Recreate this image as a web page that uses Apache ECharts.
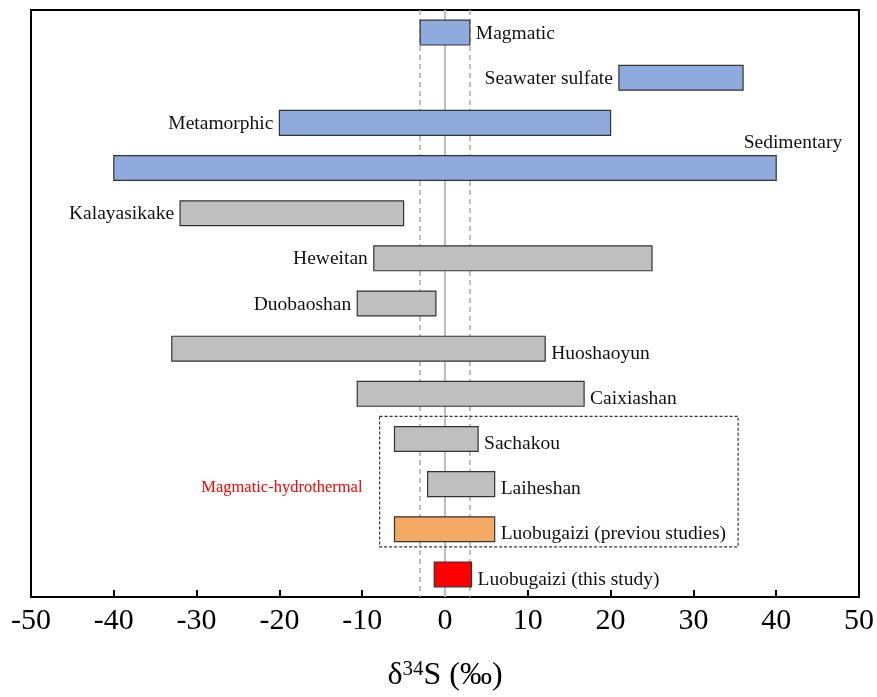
<!DOCTYPE html>
<html>
<head>
<meta charset="utf-8">
<script src="https://cdn.jsdelivr.net/npm/echarts@6/dist/echarts.min.js"></script>
<style>html,body{margin:0;padding:0;background:#fff;}#c{width:877px;height:697px;}</style>
</head>
<body>
<div id="c"></div>
<script>
const categories = ["Magmatic","Seawater sulfate","Metamorphic","Sedimentary","Kalayasikake","Heweitan","Duobaoshan","Huoshaoyun","Caixiashan","Sachakou","Laiheshan","Luobugaizi (previou studies)","Luobugaizi (this study)"];
const lows  = [-3, 21, -20, -40, -32, -8.6, -10.6, -33, -10.6, -6.1, -2.1, -6.1, -1.3];
const highs = [ 3, 36,  20,  40,  -5,  25,  -1.1, 12.1, 16.8,  4.0,  6.0,  6.0,  3.2];
const groups = ["source","source","source","source","deposit","deposit","deposit","deposit","deposit","deposit","deposit","previous","this"];
const labelSide = ["right","left","left","topright","left","left","left","right","right","right","right","right","right"];
const refLines = [-3, 0, 3];
const boxRange = [-7.9, 35.4];
const boxRows = ["Sachakou","Luobugaizi (previou studies)"];
const boxLabel = "Magmatic-hydrothermal";
const boxLabelX = -19.7;
const boxLabelRow = "Laiheshan";

const groupColor = {source:'#8FAADC', deposit:'#BFBFBF', previous:'#F4A965', this:'#FF0000'};
const FONT = '"Liberation Serif","Times New Roman",serif';

const barData = categories.map((c, i) => [i, lows[i], highs[i]]);

const chart = echarts.init(document.getElementById('c'));
chart.setOption({
  animation: false,
  grid: {left: 31, right: 18, top: 10, bottom: 97, show: true, borderColor: '#000', borderWidth: 2, backgroundColor: 'transparent'},
  xAxis: {
    type: 'value', min: -50, max: 50, interval: 10,
    axisLine: {show: true, lineStyle: {color: '#000', width: 2}},
    axisTick: {show: true, inside: true, length: 7, lineStyle: {color: '#000', width: 2}},
    axisLabel: {fontFamily: FONT, fontSize: 30, color: '#000', margin: 9},
    splitLine: {show: false},
    name: '{d|δ}{s|34}{d|S (‰)}',
    nameLocation: 'middle', nameGap: 62,
    nameTextStyle: {
      rich: {
        d: {fontFamily: FONT, fontSize: 32, color: '#000'},
        s: {fontFamily: FONT, fontSize: 21, color: '#000', padding: [0, 0, 13, 0]}
      }
    }
  },
  yAxis: {
    type: 'category', data: categories, inverse: true,
    axisLine: {show: false}, axisTick: {show: false}, axisLabel: {show: false}, splitLine: {show: false}
  },
  series: [
    {
      type: 'custom', z: 1, silent: true,
      data: [[boxRange[0], boxRange[1], categories.indexOf(boxRows[0]), categories.indexOf(boxRows[1]), boxLabelX, categories.indexOf(boxLabelRow)]],
      renderItem: function (params, api) {
        const band = api.size([0, 1])[1];
        const pTop = api.coord([api.value(0), api.value(2)]);
        const pBot = api.coord([api.value(1), api.value(3)]);
        const y1 = pTop[1] - band * 0.5;
        const y2 = pBot[1] + band * 0.39;
        const pl = api.coord([api.value(4), api.value(5)]);
        return {
          type: 'group',
          children: [
            {type: 'rect', shape: {x: pTop[0], y: y1, width: pBot[0] - pTop[0], height: y2 - y1},
             style: {fill: 'none', stroke: '#333', lineWidth: 1.2, lineDash: [3, 2]}},
            {type: 'text', x: pl[0], y: pl[1] + 4,
             style: {text: boxLabel, fill: '#FF0000', font: '16.5px ' + FONT, align: 'center', verticalAlign: 'middle'}}
          ]
        };
      },
      markLine: {
        silent: true, symbol: 'none', label: {show: false}, z: 1,
        data: refLines.map(v => ({
          xAxis: v,
          lineStyle: v === 0 ? {color: '#BDBDBD', width: 2, type: 'solid'} : {color: '#ABABAB', width: 1.5, type: [5, 4]}
        }))
      }
    },
    {
      type: 'custom', z: 6,
      data: barData,
      renderItem: function (params, api) {
        const i = api.value(0);
        const p1 = api.coord([api.value(1), i]);
        const p2 = api.coord([api.value(2), i]);
        const band = api.size([0, 1])[1];
        const h = band * 0.55;
        const top = p1[1] - h / 2;
        const side = labelSide[i];
        let tx, ty = p1[1], align;
        if (side === 'left') { tx = p1[0] - 6; align = 'right'; ty = p1[1] + 1; }
        else if (side === 'right') { tx = p2[0] + 6; align = 'left'; ty = p1[1] + (i >= 7 ? 5 : 1); }
        else { tx = p2[0] + 66; align = 'right'; ty = top - 13; }
        return {
          type: 'group',
          children: [
            {type: 'rect', shape: {x: p1[0], y: top, width: p2[0] - p1[0], height: h},
             style: {fill: groupColor[groups[i]], stroke: '#333', lineWidth: 1.2}},
            {type: 'text', x: tx, y: ty,
             style: {text: categories[i], fill: '#111', font: '19.5px ' + FONT, align: align, verticalAlign: 'middle'}}
          ]
        };
      }
    }
  ]
});
</script>
</body>
</html>
